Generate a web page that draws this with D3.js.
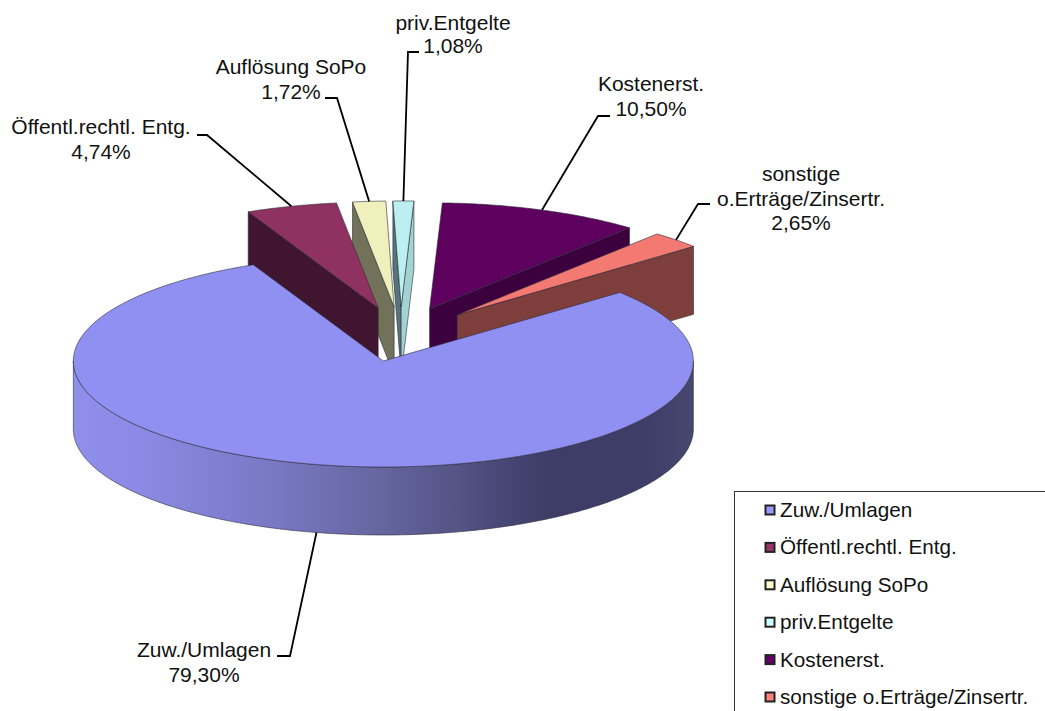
<!DOCTYPE html>
<html>
<head>
<meta charset="utf-8">
<title>Erträge</title>
<style>
html, body { margin: 0; padding: 0; background: #fff; overflow: hidden; }
svg { display: block; }
text { font-family: "Liberation Sans", Arial, sans-serif; fill: #111; }
</style>
<script src="https://d3js.org/d3.v7.min.js"></script>
</head>
<body>
<svg id="chart" width="1045" height="711"></svg>
<script>
// values
const categories = ["Zuw./Umlagen", "Öffentl.rechtl. Entg.", "Auflösung SoPo", "priv.Entgelte", "Kostenerst.", "sonstige o.Erträge/Zinsertr."];
const shares = [79.30, 4.74, 1.72, 1.08, 10.50, 2.65];
const labelLines = [["Zuw./Umlagen"], ["Öffentl.rechtl. Entg."], ["Auflösung SoPo"], ["priv.Entgelte"], ["Kostenerst."], ["sonstige", "o.Erträge/Zinsertr."]];

// colours
const legendColors = ["#9999ff", "#993366", "#ffffcc", "#ccffff", "#660066", "#ff8080"];
const topColors = ["#9090f2", "#8f3262", "#f0f0bc", "#bcefef", "#5e005e", "#f27a72"];
const startWallColors = ["#6a6aa8", "#401530", "#72725a", "#55757a", "#300030", "#7e3f3c"];
const endWallColors = ["#6a6aa8", "#401530", "#72725a", "#a3d2d2", "#3c003e", "#7e3f3c"];

// layout of labels
const labelCenter = [[204, 657], [101, 134], [291, 74], [453, 30], [651, 91], [801, 181]];
const labelStep = [25, 25, 25, 23, 25, 24.5];
const leaderElbow = [[290, 656], [207, 135], [337, 98], [408, 52], [598, 116], [698, 204]];
const leaderEnd = [[277, 656], [197, 135], [325, 98], [419, 52], [610, 116], [710, 204]];

const FONT = 21;
const LEGEND_FONT = 20.7;
const CX = 400.6, CY = 334.3, RX = 310, RY = 106, DEPTH = 68, EXPLODE = 80 / 310;
const START = 49.7 * Math.PI / 180;

const svg = d3.select("#chart");

const xScale = d3.scaleLinear().domain([-1, 1]).range([CX - RX, CX + RX]);
const yScale = d3.scaleLinear().domain([-1, 1]).range([CY + RY, CY - RY]);

const slices = d3.pie().sort(null).value(d => d)
    .startAngle(START).endAngle(START + 2 * Math.PI)(shares);

slices.forEach(s => { s.mid = (s.startAngle + s.endAngle) / 2; });

// one point on a slice: r = 0 apex, r = 1 rim, z = 1 is the bottom of the wall
function pt(s, angle, r, z) {
    return [
        xScale(EXPLODE * Math.sin(s.mid) + r * Math.sin(angle)),
        yScale(EXPLODE * Math.cos(s.mid) + r * Math.cos(angle)) + z * DEPTH
    ];
}

function rimAngles(a0, a1) {
    const n = Math.max(2, Math.ceil((a1 - a0) / 0.01));
    return d3.range(n + 1).map(i => a0 + (a1 - a0) * i / n);
}

const line = d3.line();

const defs = svg.append("defs");
const grad = defs.append("linearGradient")
    .attr("id", "rimGrad")
    .attr("gradientUnits", "userSpaceOnUse")
    .attr("x1", CX - RX - 17).attr("x2", CX + RX - 17).attr("y1", 0).attr("y2", 0);
[[0, "#8f8fec"], [0.1, "#8b8be6"], [0.3, "#7a7ac8"], [0.5, "#65659f"], [0.62, "#535385"], [0.76, "#3d3d68"], [0.92, "#3d3d68"], [1, "#47476f"]]
    .forEach(d => grad.append("stop").attr("offset", d[0]).attr("stop-color", d[1]));

const pieG = svg.append("g")
    .attr("stroke", "#2b2b3a")
    .attr("stroke-opacity", 0.75)
    .attr("stroke-width", 0.8)
    .attr("stroke-linejoin", "round");

// back slices first, big slice last so it covers their walls
const order = [4, 5, 2, 3, 1, 0];

order.forEach(i => {
    const s = slices[i];
    const g = pieG.append("g");

    if (Math.sin(s.startAngle) < 0 && i !== 0) {
        g.append("path").attr("fill", startWallColors[i]).attr("d", line([
            pt(s, s.startAngle, 1, 0), pt(s, s.startAngle, 0, 0),
            pt(s, s.startAngle, 0, 1), pt(s, s.startAngle, 1, 1)
        ]) + "Z");
    }
    if (Math.sin(s.endAngle) > 0 && i !== 0) {
        g.append("path").attr("fill", endWallColors[i]).attr("d", line([
            pt(s, s.endAngle, 1, 0), pt(s, s.endAngle, 0, 0),
            pt(s, s.endAngle, 0, 1), pt(s, s.endAngle, 1, 1)
        ]) + "Z");
    }

    // outer wall, only the part that faces the viewer
    const a0 = Math.max(s.startAngle, Math.PI / 2);
    const a1 = Math.min(s.endAngle, 1.5 * Math.PI);
    if (a1 > a0) {
        const arc = rimAngles(a0, a1);
        const rim = arc.map(a => pt(s, a, 1, 0)).concat(arc.slice().reverse().map(a => pt(s, a, 1, 1)));
        g.append("path").attr("fill", "url(#rimGrad)").attr("d", line(rim) + "Z");
    }

    const top = [pt(s, s.startAngle, 0, 0)].concat(rimAngles(s.startAngle, s.endAngle).map(a => pt(s, a, 1, 0)));
    g.append("path").attr("fill", topColors[i]).attr("d", line(top) + "Z");
});

// leader lines and data labels
const fmt = v => v.toFixed(2).replace(".", ",") + "%";

slices.forEach((s, i) => {
    const angle = s.mid;
    const front = Math.cos(angle) < 0;
    const from = pt(s, angle, 1, front ? 1 : 0);
    svg.append("path")
        .attr("d", line([from, leaderElbow[i], leaderEnd[i]]))
        .attr("fill", "none").attr("stroke", "#000").attr("stroke-width", 1.8);

    const t = svg.append("text")
        .attr("text-anchor", "middle")
        .attr("font-size", FONT);
    labelLines[i].concat([fmt(shares[i])]).forEach((str, k) => {
        t.append("tspan")
            .attr("x", labelCenter[i][0])
            .attr("y", labelCenter[i][1] + k * labelStep[i])
            .text(str);
    });
});

// legend box runs off the right and bottom edge
svg.append("rect")
    .attr("x", 734.5).attr("y", 491.5)
    .attr("width", 330).attr("height", 240)
    .attr("fill", "#fff").attr("stroke", "#333").attr("stroke-width", 1);

const legendY = d3.scalePoint().domain(categories).range([510, 697]);

const rows = svg.selectAll("g.legend").data(categories).join("g")
    .attr("class", "legend")
    .attr("transform", d => `translate(765, ${legendY(d)})`);

rows.append("rect")
    .attr("x", 0.5).attr("y", -4.5).attr("width", 9).attr("height", 9)
    .attr("fill", (d, i) => legendColors[i])
    .attr("stroke", "#222").attr("stroke-width", 2);

rows.append("text")
    .attr("x", 15).attr("y", 7)
    .attr("font-size", LEGEND_FONT)
    .text(d => d);
</script>
</body>
</html>
